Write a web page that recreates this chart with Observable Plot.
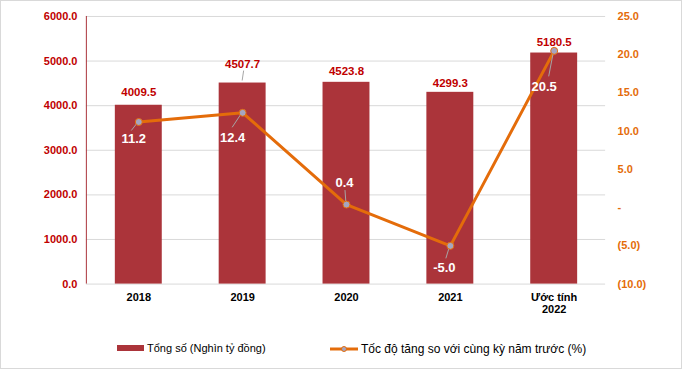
<!DOCTYPE html>
<html>
<head>
<meta charset="utf-8">
<script src="https://cdn.jsdelivr.net/npm/d3@7"></script>
<script src="https://cdn.jsdelivr.net/npm/@observablehq/plot@0.6"></script>
<style>
  body { margin: 0; background: #fff; font-family: "Liberation Sans", Arial, sans-serif; }
  #wrap { position: relative; width: 680px; height: 367px; border: 1px solid #d9d9d9; overflow: hidden; }
  #chart { position: absolute; left: -1px; top: -1px; }
  .leg { position: absolute; top: 341px; font-size: 11px; color: #000; display: flex; align-items: center; white-space: nowrap; }
</style>
</head>
<body>
<div id="wrap">
  <div id="chart"></div>
  <div class="leg" style="left:116px;">
    <span style="display:inline-block;width:27px;height:6px;background:#ab343a;margin-right:3px;"></span>
    <span>Tổng số (Nghìn tỷ đồng)</span>
  </div>
  <div class="leg" style="left:329px;font-size:12px;">
    <svg width="28" height="10" style="margin-right:3px"><line x1="0" y1="5" x2="28" y2="5" stroke="#e46c0a" stroke-width="3"/><circle cx="14" cy="5" r="2.5" fill="#a5a5c0" stroke="#e46c0a" stroke-width="1"/></svg>
    <span>Tốc độ tăng so với cùng kỳ năm trước (%)</span>
  </div>
</div>
<script>
const years = ["2018", "2019", "2020", "2021", "Ước tính\n2022"];
const totals = [4009.5, 4507.7, 4523.8, 4299.3, 5180.5];
const growth = [11.2, 12.4, 0.4, -5.0, 20.5];
const leftTicks = [0, 1000, 2000, 3000, 4000, 5000, 6000];
const rightTicks = [-10, -5, 0, 5, 10, 15, 20, 25];

const LMAX = 6000, RMIN = -10, RMAX = 25;
const toLeft = p => (p - RMIN) * LMAX / (RMAX - RMIN);
const rightFmt = p => p === 0 ? "-" : p < 0 ? `(${Math.abs(p).toFixed(1)})` : p.toFixed(1);

const rows = years.map((year, i) => ({year, total: totals[i], growth: growth[i], g: toLeft(growth[i])}));

// label styling offsets (pixels)
const barLabelDy = [-13, -19, -11, -9, -11];
const pctOff = [[-5, 17], [-10, 25], [-2, -22], [-6, 22], [-10, 36]];
const pctLead = [[-7, 9], [-10, 15], [-1, -14], [-4, 13], [-5, 26]];

const BAR = "#ab343a", LINE = "#e46c0a";

function center(scales, v) {
  const x = scales.x;
  return x(v) + (x.bandwidth ? x.bandwidth() / 2 : 0);
}

const chart = Plot.plot({
  width: 682,
  height: 330,
  marginLeft: 86,
  marginRight: 76,
  marginTop: 16,
  marginBottom: 46,
  style: {fontFamily: "'Liberation Sans', Arial, sans-serif", background: "transparent", overflow: "visible"},
  x: {domain: years, paddingInner: 0.55, paddingOuter: 0.275, label: null},
  y: {domain: [0, LMAX], label: null},
  marks: [
    Plot.ruleY(leftTicks, {stroke: "#d9d9d9", strokeWidth: 1}),
    Plot.barY(rows, {x: "year", y: "total", fill: BAR}),
    // left axis line
    (index, scales, values, dims) => d3.create("svg:line")
      .attr("x1", dims.marginLeft + 0.5).attr("x2", dims.marginLeft + 0.5)
      .attr("y1", dims.marginTop).attr("y2", dims.height - dims.marginBottom)
      .attr("stroke", BAR).attr("stroke-width", 1).node(),
    Plot.axisY({ticks: leftTicks, tickFormat: d => d.toFixed(1), tickSize: 0, tickPadding: 9,
      fill: "#c00000", fontWeight: "bold", fontSize: 11, label: null}),
    Plot.axisY({anchor: "right", ticks: rightTicks.map(toLeft),
      tickFormat: d => rightFmt(Math.round(d * (RMAX - RMIN) / LMAX + RMIN)),
      tickSize: 0, tickPadding: 12, fill: LINE, fontWeight: "bold", fontSize: 11, label: null}),
    Plot.axisX({tickSize: 0, tickPadding: 8, fontWeight: "bold", fontSize: 11, fill: "#000", label: null, lineHeight: 1.1}),
    // bar value labels
    ...rows.map((r, i) => Plot.text([r], {x: "year", y: "total", text: d => d.total.toFixed(1), dy: barLabelDy[i],
      fill: "#c00000", fontWeight: "bold", fontSize: 11.5})),
    // leader for 4507.7
    (index, scales) => {
      const r = rows[1];
      const cx = center(scales, r.year), cy = scales.y(r.total);
      return d3.create("svg:line").attr("x1", cx).attr("y1", cy - 2).attr("x2", cx + 1.5).attr("y2", cy - 12)
        .attr("stroke", "#a6a6a6").attr("stroke-width", 1).node();
    },
    Plot.line(rows, {x: "year", y: "g", stroke: LINE, strokeWidth: 3}),
    // percent leader lines
    (index, scales) => {
      const g = d3.create("svg:g");
      rows.forEach((r, i) => {
        const cx = center(scales, r.year), cy = scales.y(r.g);
        g.append("line").attr("x1", cx).attr("y1", cy).attr("x2", cx + pctLead[i][0]).attr("y2", cy + pctLead[i][1])
          .attr("stroke", "#a6a6a6").attr("stroke-width", 1);
      });
      return g.node();
    },
    Plot.dot(rows, {x: "year", y: "g", r: 3.5, fill: "#a5a5c0", stroke: LINE, strokeWidth: 1}),
    ...rows.map((r, i) => Plot.text([r], {x: "year", y: "g", text: d => d.growth.toFixed(1),
      dx: pctOff[i][0], dy: pctOff[i][1], fill: "#fff", fontWeight: "bold", fontSize: 13}))
  ]
});
document.getElementById("chart").appendChild(chart);
</script>
</body>
</html>
